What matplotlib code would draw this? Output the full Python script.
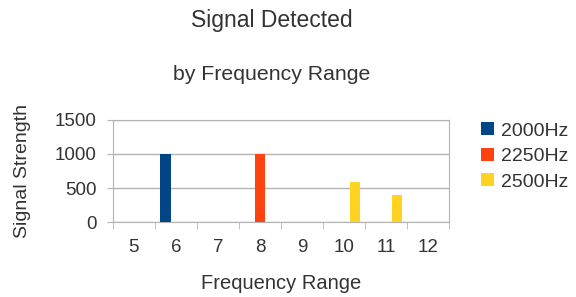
# Grouped column chart: signal strength by frequency range
import matplotlib.pyplot as plt
import numpy as np

plt.rcParams['font.family'] = ['Liberation Sans', 'DejaVu Sans']

categories = ['5', '6', '7', '8', '9', '10', '11', '12']
series_names = ['2000Hz', '2250Hz', '2500Hz']
s2000 = [0, 1000, 0, 0, 0, 0, 0, 0]
s2250 = [0, 0, 0, 1000, 0, 0, 0, 0]
s2500 = [0, 0, 0, 0, 0, 590, 390, 0]
colors = ['#004586', '#ff420e', '#ffd320']


def main():
    fig = plt.figure(figsize=(5.76, 2.97), dpi=100)
    ax = fig.add_axes([0.196, 0.2525, 0.584, 0.3435])

    x = np.arange(len(categories))
    width = 0.24
    offsets = [-0.25, 0.0, 0.25]
    for vals, off, col, name in zip([s2000, s2250, s2500], offsets, colors, series_names):
        ax.bar(x + off, vals, width, color=col, label=name, zorder=3)

    ax.set_xlim(-0.5, len(categories) - 0.5)
    ax.set_ylim(0, 1500)
    ax.set_yticks([0, 500, 1000, 1500])
    ax.yaxis.grid(True, color='#b3b3b3', linewidth=1, zorder=0)
    for s in ax.spines.values():
        s.set_color('#b3b3b3')

    # labels at centers, tick marks at category boundaries
    ax.set_xticks(x)
    ax.set_xticklabels(categories)
    ax.set_xticks(np.arange(len(categories) + 1) - 0.5, minor=True)
    ax.tick_params(axis='x', which='major', length=0, pad=12, labelsize=13.5, colors='#333333')
    ax.tick_params(axis='x', which='minor', length=5, color='#b3b3b3')
    ax.tick_params(axis='y', length=4.5, pad=7, labelsize=13.5, colors='#333333')
    ax.tick_params(axis='y', color='#b3b3b3')

    ax.set_xlabel('Frequency Range', fontsize=14.5, color='#333333', labelpad=13.5)
    ax.set_ylabel('Signal Strength', fontsize=14, color='#333333', labelpad=17)

    fig.text(0.472, 0.932, 'Signal Detected', ha='center', va='center', fontsize=16.5, color='#333333')
    fig.text(0.472, 0.748, 'by Frequency Range', ha='center', va='center', fontsize=15.3, color='#333333')

    fig.legend(loc='upper left', bbox_to_anchor=(0.805, 0.647), frameon=False,
               fontsize=14, handlelength=0.65, handleheight=0.65, handletextpad=0.35,
               labelspacing=0.42, labelcolor='#333333')

    fig.savefig('out.png', dpi=100)


if __name__ == '__main__':
    main()
